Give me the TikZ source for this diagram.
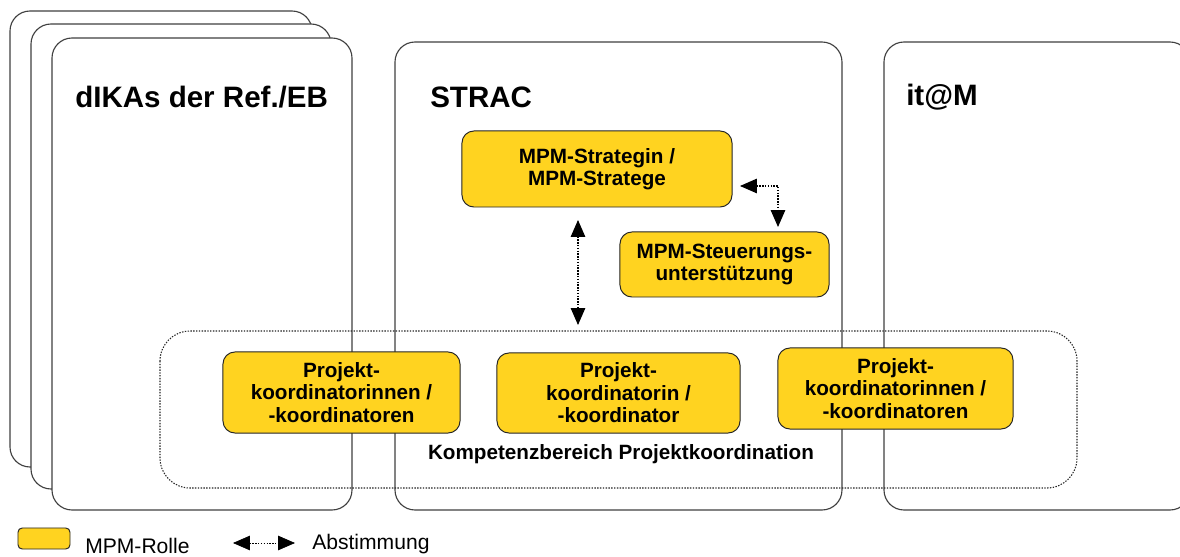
\documentclass[tikz,border=0pt]{standalone}
\usepackage{fontspec}
\setmainfont{Liberation Sans}
\usetikzlibrary{arrows.meta}
\definecolor{gelb}{RGB}{255,211,32}

\begin{document}
\begin{tikzpicture}[x=0.025cm,y=-0.025cm,
  karte/.style={draw=black!75,line width=0.8pt,fill=white,rounded corners=0.5cm},
  rolle/.style={draw=black!85,fill=gelb,line width=0.7pt,rounded corners=0.3cm,align=center,inner sep=0pt,font=\fontsize{14.7}{16}\selectfont\bfseries},
  abst/.style={{Triangle[length=0.42cm,width=0.36cm]}-{Triangle[length=0.42cm,width=0.36cm]},dash pattern=on 1pt off 1pt,line width=0.75pt},
  titel/.style={font=\fontsize{21}{24}\selectfont\bfseries,anchor=base west,inner sep=0pt}]
\useasboundingbox (0,0) rectangle (1180,557);
\clip (0,0) rectangle (1180,557);
% Karten
\draw [karte] (10,11) rectangle (312,467);
\draw [karte] (31,24) rectangle (331,489);
\draw [karte] (52,38) rectangle (352,510);
\draw [karte] (395,42) rectangle (842,510);
\draw [karte] (884,42) rectangle (1190,510);
\node [titel] (dika) at (75,108) {dIKAs der Ref./EB};
\node [titel] (strac) at (430,108) {STRAC};
\node [titel] (itm) at (906,106) {it@M};
% Kompetenzbereich
\draw [dash pattern=on 1pt off 1pt,line width=0.75pt,black!85,rounded corners=0.75cm] (160,331) rectangle (1077,488);
\node [font=\fontsize{14.7}{16}\selectfont\bfseries,anchor=base,inner sep=0pt] (kompetenz) at (621,460) {Kompetenzbereich Projektkoordination};
% Rollen
\node [rolle,minimum width=6.75cm,minimum height=1.9cm] (stratege) at (597,169) {MPM-Strategin /\\MPM-Stratege};
\node [rolle,minimum width=5.225cm,minimum height=1.625cm] (steuerung) at (724.5,264.5) {MPM-Steuerungs-\\unterstützung};
\node [rolle,minimum width=5.925cm,minimum height=2.025cm] (pklinks) at (341.5,392.5) {Projekt-\\koordinatorinnen /\\-koordinatoren};
\node [rolle,minimum width=6.075cm,minimum height=2cm] (pkmitte) at (618.5,393) {Projekt-\\koordinatorin /\\-koordinator};
\node [rolle,minimum width=5.875cm,minimum height=2.025cm] (pkrechts) at (895.5,388.5) {Projekt-\\koordinatorinnen /\\-koordinatoren};
% Abstimmung
\coordinate (s1) at (578,220);
\coordinate (s2) at (578,325);
\draw [abst] (s1) -- (s2);
\coordinate (e1) at (740,186);
\coordinate (e2) at (778,227);
\draw [abst] (e1) -| (e2);
% Legende
\node [draw=black!85,fill=gelb,line width=0.7pt,rounded corners=3pt,minimum width=1.3cm,minimum height=0.525cm,inner sep=0pt] (legrolle) at (44,538.5) {};
\node [anchor=base west,inner sep=0pt,font=\fontsize{15}{18}\selectfont] (legrtext) at (85,554) {MPM-Rolle};
\coordinate (l1) at (233,543);
\coordinate (l2) at (295,543);
\draw [abst,line width=0.5pt] (l1) -- (l2);
\node [anchor=base west,inner sep=0pt,font=\fontsize{15}{18}\selectfont] (legatext) at (312,550) {Abstimmung};
\end{tikzpicture}
\end{document}
